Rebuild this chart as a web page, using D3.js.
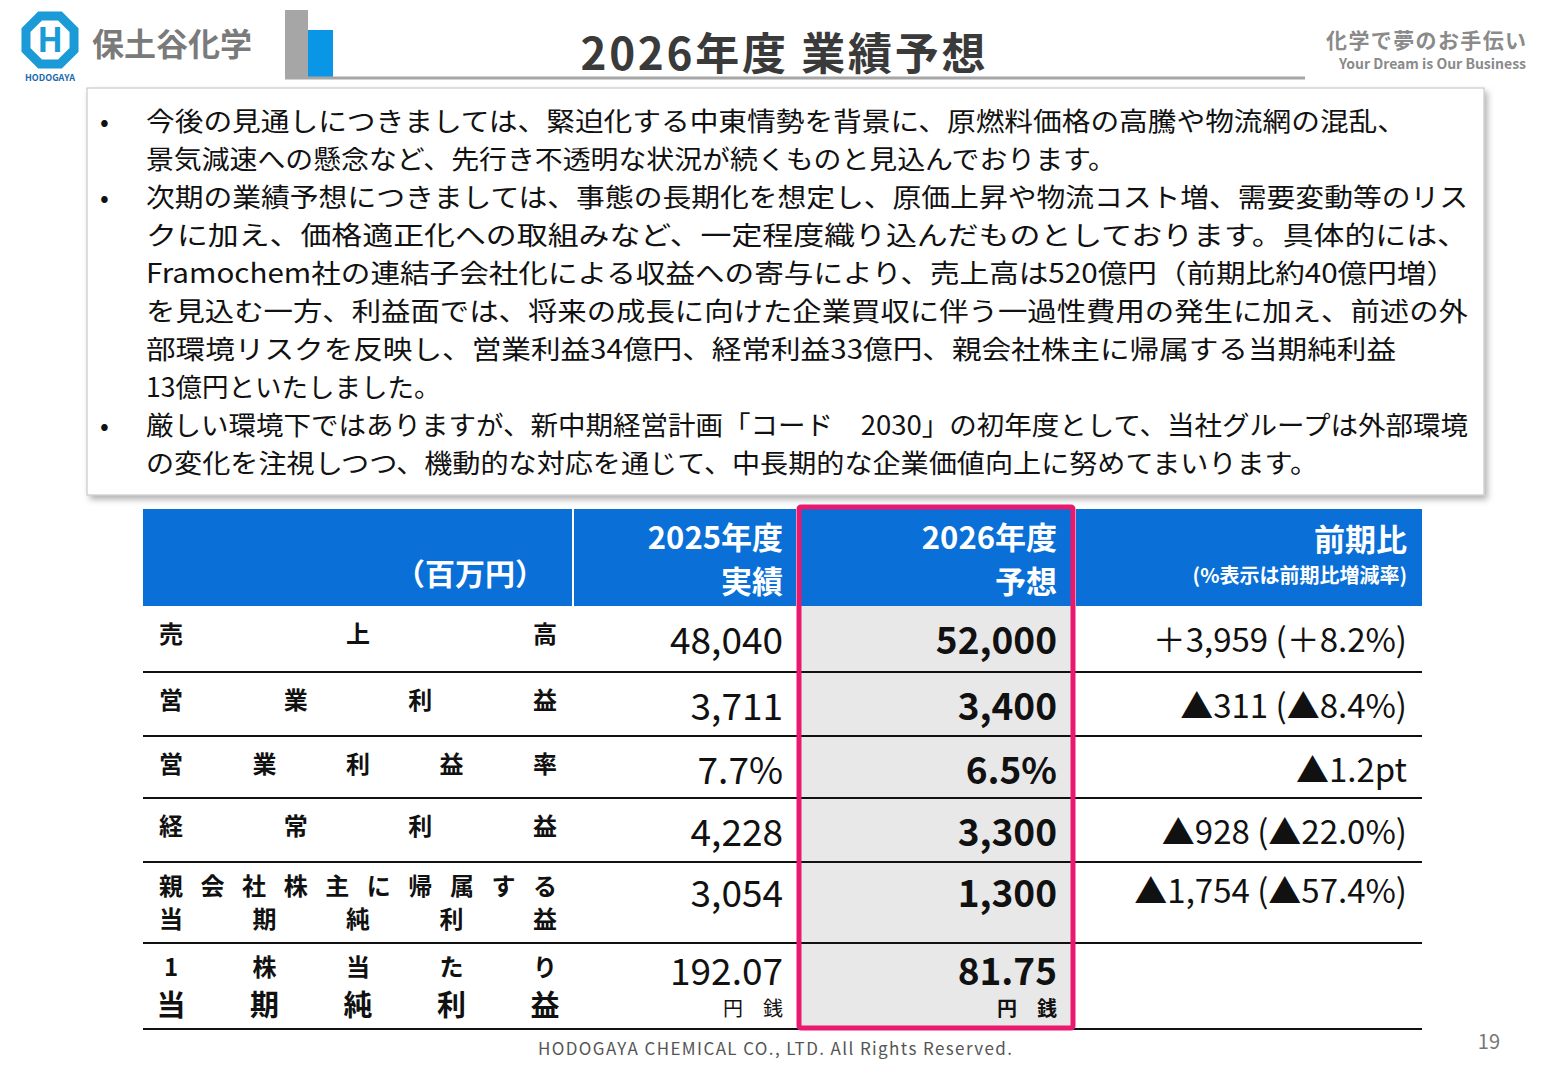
<!DOCTYPE html>
<html><head><meta charset="utf-8">
<script src="https://cdn.jsdelivr.net/npm/d3@7"></script>
<style>body{margin:0;background:#fff}svg{display:block}text{font-family:"Noto Sans CJK JP","Noto Sans",sans-serif}</style>
</head><body><svg id="c" width="1560" height="1080"></svg>
<script>
const title = "2026年度 業績予想";
const bullets = [
 ["今後の見通しにつきましては、緊迫化する中東情勢を背景に、原燃料価格の高騰や物流網の混乱、","景気減速への懸念など、先行き不透明な状況が続くものと見込んでおります。"],
 ["次期の業績予想につきましては、事態の長期化を想定し、原価上昇や物流コスト増、需要変動等のリス","クに加え、価格適正化への取組みなど、一定程度織り込んだものとしております。具体的には、","Framochem社の連結子会社化による収益への寄与により、売上高は520億円（前期比約40億円増）","を見込む一方、利益面では、将来の成長に向けた企業買収に伴う一過性費用の発生に加え、前述の外","部環境リスクを反映し、営業利益34億円、経常利益33億円、親会社株主に帰属する当期純利益","13億円といたしました。"],
 ["厳しい環境下ではありますが、新中期経営計画「コード　2030」の初年度として、当社グループは外部環境","の変化を注視しつつ、機動的な対応を通じて、中長期的な企業価値向上に努めてまいります。"]
];
const lineWidths = [1260,970,1322,1322,1310,1322,1250,null,1322,1172];
const headers = ["（百万円）", ["2025年度","実績"], ["2026年度","予想"], ["前期比","(%表示は前期比増減率)"]];
const rowLabels = [["売上高"],["営業利益"],["営業利益率"],["経常利益"],["親会社株主に帰属する","当期純利益"],["1株当たり","当期純利益"]];
const values2025 = ["48,040","3,711","7.7%","4,228","3,054","192.07"];
const values2026 = ["52,000","3,400","6.5%","3,300","1,300","81.75"];
const diffs = ["＋3,959 (＋8.2%)","▲311 (▲8.4%)","▲1.2pt","▲928 (▲22.0%)","▲1,754 (▲57.4%)",""];
const rowHeights = [66,64,62,64,81,86];

const svg = d3.select("#c");
const gray="#333";
svg.append("rect").attr("x",285).attr("y",10).attr("width",23).attr("height",68).attr("fill","#a6a6a6");
svg.append("rect").attr("x",308).attr("y",30).attr("width",25).attr("height",48).attr("fill","#0a96e6");
svg.append("line").attr("x1",285).attr("x2",1305).attr("y1",78).attr("y2",78).attr("stroke","#a6a6a6").attr("stroke-width",3);
svg.append("text").attr("x",783).attr("y",70).attr("text-anchor","middle").attr("font-size",44).attr("font-weight",700).attr("fill","#3a3a3a").attr("textLength",405).text(title);
svg.append("text").attr("x",1526).attr("y",48).attr("text-anchor","end").attr("font-size",21).attr("font-weight",700).attr("fill","#8a8a8a").attr("textLength",200).text("化学で夢のお手伝い");
svg.append("text").attr("x",1526).attr("y",69).attr("text-anchor","end").attr("font-size",14).attr("font-weight",700).attr("fill","#8a8a8a").text("Your Dream is Our Business");
const lg=svg.append("g").attr("transform","translate(50,40)");
const oct=d3.range(8).map(i=>{const a=Math.PI/8+i*Math.PI/4;return [26*Math.cos(a),26*Math.sin(a)];});
lg.append("polygon").attr("points",oct.map(p=>p.join(",")).join(" ")).attr("fill","none").attr("stroke","#1a9ad6").attr("stroke-width",9);
lg.append("text").attr("y",12).attr("text-anchor","middle").attr("font-size",34).attr("font-weight",700).attr("fill","#1a9ad6").text("H");
svg.append("text").attr("x",50).attr("y",81).attr("text-anchor","middle").attr("font-size",9).attr("font-weight",700).attr("fill","#1a6ab0").text("HODOGAYA");
svg.append("text").attr("x",92).attr("y",56).attr("font-size",32).attr("font-weight",700).attr("fill","#7a7a7a").text("保土谷化学");

const defs=svg.append("defs");
const f=defs.append("filter").attr("id","sh").attr("x","-5%").attr("y","-5%").attr("width","110%").attr("height","115%");
f.append("feDropShadow").attr("dx",3).attr("dy",4).attr("stdDeviation",3).attr("flood-color","#000").attr("flood-opacity",0.3);
svg.append("rect").attr("x",87).attr("y",88).attr("width",1397).attr("height",407).attr("fill","#fff").attr("stroke","#bfbfbf").attr("filter","url(#sh)");
let li=0;
const ly=d3.scaleLinear().domain([0,1]).range([131,169]);
bullets.forEach(b=>{
  svg.append("text").attr("x",100).attr("y",ly(li)).attr("font-size",26).attr("fill","#111").text("•");
  b.forEach(l=>{
    svg.append("text").attr("x",146).attr("y",ly(li)).attr("font-size",26.5).attr("fill","#111").attr("textLength",lineWidths[li]).attr("lengthAdjust","spacingAndGlyphs").text(l);
    li++;
  });
});

const cols=[143,573,797,1075,1422];
const edges=[606];rowHeights.forEach(h=>edges.push(edges[edges.length-1]+h));
svg.append("rect").attr("x",cols[0]).attr("y",509).attr("width",cols[4]-cols[0]).attr("height",97).attr("fill","#0a6fd6");
[1,2,3].forEach(i=>svg.append("line").attr("x1",cols[i]).attr("x2",cols[i]).attr("y1",509).attr("y2",606).attr("stroke","#fff").attr("stroke-width",2));
svg.append("rect").attr("x",cols[2]+2).attr("y",606).attr("width",cols[3]-cols[2]-4).attr("height",edges[6]-606).attr("fill","#e8e8e8");
const ht=(x,y,s,t)=>svg.append("text").attr("x",x).attr("y",y).attr("text-anchor","end").attr("font-size",s).attr("fill","#fff").attr("font-weight",700).text(t);
ht(545,585,30,headers[0]);
ht(783,549,31,headers[1][0]);ht(783,593,31,headers[1][1]);
ht(1057,549,31,headers[2][0]);ht(1057,593,31,headers[2][1]);
ht(1407,551,31,headers[3][0]);ht(1407,583,20,headers[3][1]);
edges.slice(1).forEach((e,i)=>svg.append("line").attr("x1",cols[0]).attr("x2",cols[4]).attr("y1",e).attr("y2",e).attr("stroke","#111").attr("stroke-width",2));
rowLabels.forEach((lab,i)=>{
  const top=edges[i];
  lab.forEach((line,j)=>{
    const chars=[...line];
    const xs=d3.scalePoint().domain(d3.range(chars.length)).range([171,545]);
    const big=(i==5&&j==1);
    const y= lab.length==1? top+37 : (i==5? top+33+j*40 : top+33+j*33);
    chars.forEach((c,k)=>svg.append("text").attr("x",xs(k)).attr("y",y).attr("text-anchor","middle").attr("font-size",big?29:24).attr("font-weight",700).attr("fill","#111").text(c));
  });
  const vy = i==4? top+45 : i==5? top+42 : top+48;
  svg.append("text").attr("x",783).attr("y",vy).attr("text-anchor","end").attr("font-size",37).attr("fill","#111").text(values2025[i]);
  svg.append("text").attr("x",1057).attr("y",vy).attr("text-anchor","end").attr("font-size",37).attr("font-weight",700).attr("fill","#111").text(values2026[i]);
  svg.append("text").attr("x",1407).attr("y",i==4?top+41:top+46).attr("text-anchor","end").attr("font-size",33).attr("fill","#111").text(diffs[i]);
  if(i==5){
    svg.append("text").attr("x",783).attr("y",top+73).attr("text-anchor","end").attr("font-size",20).attr("fill","#111").text("円　銭");
    svg.append("text").attr("x",1057).attr("y",top+73).attr("text-anchor","end").attr("font-size",20).attr("font-weight",700).attr("fill","#111").text("円　銭");
  }
});
svg.append("rect").attr("x",799).attr("y",507).attr("width",274).attr("height",521).attr("fill","none").attr("stroke","#e8196e").attr("stroke-width",5).attr("rx",2);
svg.append("text").attr("x",775).attr("y",1055).attr("text-anchor","middle").attr("font-size",17).attr("fill","#555").attr("textLength",474).text("HODOGAYA CHEMICAL CO., LTD. All Rights Reserved.");
svg.append("text").attr("x",1500).attr("y",1049).attr("text-anchor","end").attr("font-size",20).attr("fill","#777").text("19");
</script></body></html>
